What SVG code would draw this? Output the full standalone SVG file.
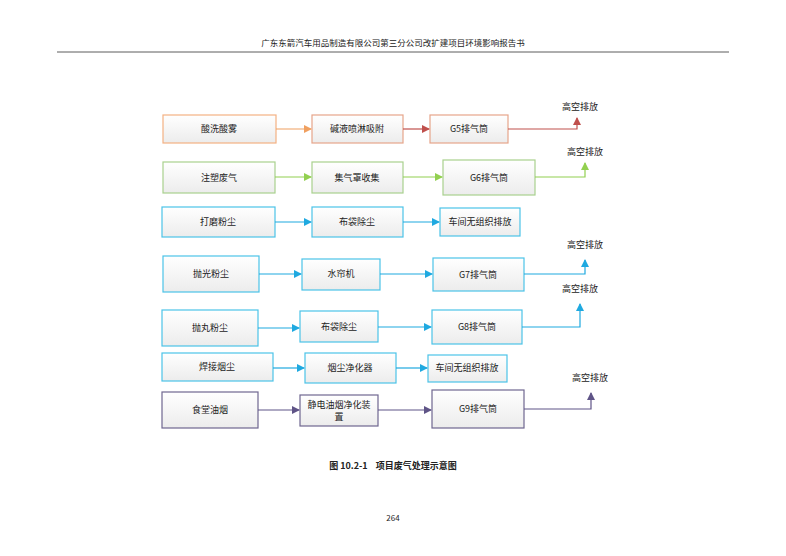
<svg xmlns="http://www.w3.org/2000/svg" width="786" height="556" viewBox="0 0 786 556">
<defs>
<linearGradient id="g" x1="0" y1="0" x2="0" y2="1"><stop offset="0" stop-color="#ffffff"/><stop offset="1" stop-color="#ececec"/></linearGradient>
<marker id="mo" markerWidth="8" markerHeight="8" refX="7" refY="4" orient="auto" markerUnits="userSpaceOnUse"><path d="M0,0L8,4L0,8z" fill="#f0a060"/></marker>
<marker id="mr" markerWidth="8" markerHeight="8" refX="7" refY="4" orient="auto" markerUnits="userSpaceOnUse"><path d="M0,0L8,4L0,8z" fill="#c0504d"/></marker>
<marker id="mg" markerWidth="8" markerHeight="8" refX="7" refY="4" orient="auto" markerUnits="userSpaceOnUse"><path d="M0,0L8,4L0,8z" fill="#92d050"/></marker>
<marker id="mb" markerWidth="8" markerHeight="8" refX="7" refY="4" orient="auto" markerUnits="userSpaceOnUse"><path d="M0,0L8,4L0,8z" fill="#1fa9e0"/></marker>
<marker id="mp" markerWidth="8" markerHeight="8" refX="7" refY="4" orient="auto" markerUnits="userSpaceOnUse"><path d="M0,0L8,4L0,8z" fill="#5f5487"/></marker>
</defs>
<style>
text{font-family:"Noto Sans CJK SC","Liberation Serif",serif;font-size:9px;fill:#222;text-anchor:middle}
.b{fill:url(#g);stroke-width:1.2}
.o{stroke:#f4b183}.r{stroke:#e6a58a}.gr{stroke:#a9d18e}.bl{stroke:#4bc3e8}.p{stroke:#6f6790}
.l{fill:none;stroke-width:1.2}
</style>
<rect width="786" height="556" fill="#fff"/>
<text x="393" y="46" style="font-size:8.5px">广东东箭汽车用品制造有限公司第三分公司改扩建项目环境影响报告书</text>
<line x1="57" y1="52" x2="729" y2="52" stroke="#333" stroke-width="0.8"/>
<g id="n1"><rect class="b o" x="163" y="115" width="113" height="28"/><text x="219" y="132">酸洗酸雾</text></g>
<g id="n2"><rect class="b r" x="312" y="115" width="91" height="28"/><text x="357" y="132">碱液喷淋吸附</text></g>
<g id="n3"><rect class="b r" x="430" y="115" width="78" height="28"/><text x="469" y="132">G5排气筒</text></g>
<g id="n4"><rect class="b gr" x="163" y="162" width="112" height="31"/><text x="219" y="181">注塑废气</text></g>
<g id="n5"><rect class="b gr" x="312" y="162" width="91" height="31"/><text x="357" y="181">集气罩收集</text></g>
<g id="n6"><rect class="b gr" x="443" y="160" width="92" height="35"/><text x="489" y="181">G6排气筒</text></g>
<g id="n7"><rect class="b bl" x="162" y="207" width="113" height="30"/><text x="218" y="225">打磨粉尘</text></g>
<g id="n8"><rect class="b bl" x="312" y="207" width="91" height="30"/><text x="357" y="225">布袋除尘</text></g>
<g id="n9"><rect class="b bl" x="440" y="208" width="80" height="28"/><text x="480" y="225">车间无组织排放</text></g>
<g id="n10"><rect class="b bl" x="163" y="256" width="96" height="36"/><text x="211" y="277">抛光粉尘</text></g>
<g id="n11"><rect class="b bl" x="302" y="259" width="78" height="31"/><text x="341" y="277">水帘机</text></g>
<g id="n12"><rect class="b bl" x="433" y="258" width="91" height="33"/><text x="478" y="278">G7排气筒</text></g>
<g id="n13"><rect class="b bl" x="162" y="310" width="96" height="36"/><text x="210" y="331">抛丸粉尘</text></g>
<g id="n14"><rect class="b bl" x="300" y="311" width="78" height="31"/><text x="339" y="330">布袋除尘</text></g>
<g id="n15"><rect class="b bl" x="432" y="310" width="90" height="34"/><text x="477" y="330">G8排气筒</text></g>
<g id="n16"><rect class="b bl" x="162" y="353" width="111" height="28"/><text x="217" y="370">焊接烟尘</text></g>
<g id="n17"><rect class="b bl" x="305" y="353" width="91" height="30"/><text x="350" y="371">烟尘净化器</text></g>
<g id="n18"><rect class="b bl" x="428" y="355" width="79" height="27"/><text x="467" y="371">车间无组织排放</text></g>
<g id="n19"><rect class="b p" x="162" y="392" width="96" height="36"/><text x="210" y="413">食堂油烟</text></g>
<g id="n20"><rect class="b p" x="300" y="395" width="78" height="31"/><text x="339" y="408">静电油烟净化装</text><text x="339" y="420">置</text></g>
<g id="n21"><rect class="b p" x="432" y="390" width="92" height="38"/><text x="478" y="412">G9排气筒</text></g>
<g id="labels">
<text x="580" y="110">高空排放</text><text x="585" y="155">高空排放</text><text x="585" y="248">高空排放</text><text x="580" y="292">高空排放</text><text x="590" y="381">高空排放</text>
</g>
<g id="connectors">
<path class="l" stroke="#f0a060" marker-end="url(#mo)" d="M276,129H311"/>
<path class="l" stroke="#c0504d" marker-end="url(#mr)" d="M403,129H429"/>
<path class="l" stroke="#c0504d" marker-end="url(#mr)" d="M508,129H577V118"/>
<path class="l" stroke="#92d050" marker-end="url(#mg)" d="M275,177H311"/>
<path class="l" stroke="#92d050" marker-end="url(#mg)" d="M403,177H442"/>
<path class="l" stroke="#92d050" marker-end="url(#mg)" d="M535,177H585V163"/>
<path class="l" stroke="#1fa9e0" marker-end="url(#mb)" d="M275,222H311"/>
<path class="l" stroke="#1fa9e0" marker-end="url(#mb)" d="M403,222H439"/>
<path class="l" stroke="#1fa9e0" marker-end="url(#mb)" d="M259,274H301"/>
<path class="l" stroke="#1fa9e0" marker-end="url(#mb)" d="M380,274H432"/>
<path class="l" stroke="#1fa9e0" marker-end="url(#mb)" d="M524,274H585V260"/>
<path class="l" stroke="#1fa9e0" marker-end="url(#mb)" d="M258,328H299"/>
<path class="l" stroke="#1fa9e0" marker-end="url(#mb)" d="M378,327H431"/>
<path class="l" stroke="#1fa9e0" marker-end="url(#mb)" d="M522,327H580V304"/>
<path class="l" stroke="#1fa9e0" marker-end="url(#mb)" d="M273,368H304"/>
<path class="l" stroke="#1fa9e0" marker-end="url(#mb)" d="M396,368H427"/>
<path class="l" stroke="#5f5487" marker-end="url(#mp)" d="M258,410H299"/>
<path class="l" stroke="#5f5487" marker-end="url(#mp)" d="M378,410H431"/>
<path class="l" stroke="#5f5487" marker-end="url(#mp)" d="M524,409H591V393"/>
</g>
<text x="393" y="469" xml:space="preserve" style="font-weight:bold;font-size:9px">图 10.2-1    项目废气处理示意图</text>
<text x="393" y="521" style="font-size:8px">264</text>
</svg>
